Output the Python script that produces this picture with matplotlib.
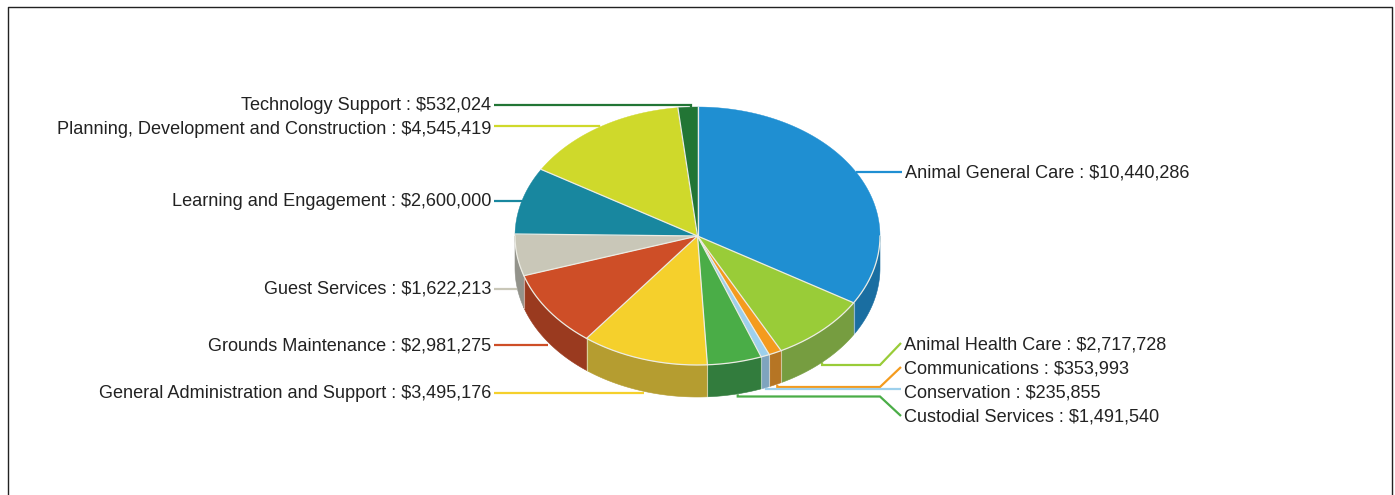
import numpy as np
import matplotlib
matplotlib.use("Agg")
import matplotlib.pyplot as plt
from matplotlib.patches import Polygon

categories = ["Animal General Care", "Animal Health Care", "Communications", "Conservation",
              "Custodial Services", "General Administration and Support", "Grounds Maintenance",
              "Guest Services", "Learning and Engagement",
              "Planning, Development and Construction", "Technology Support"]
values = [10440286, 2717728, 353993, 235855, 1491540, 3495176, 2981275, 1622213, 2600000, 4545419, 532024]
top_colors = ["#1F8FD2", "#99CC38", "#F49B1E", "#9DD0EC", "#4AAD47", "#F5D02C", "#CE4E27",
              "#C9C7B8", "#18879F", "#CFD92B", "#227535"]
side_colors = ["#1A6EA1", "#769D40", "#B67524", "#7FA4BE", "#327C3D", "#B59D30", "#9A3A1F",
               "#93938B", "#126577", "#9BA321", "#1A5828"]

# pie geometry in pixels
CX, CY, RX, RY, DEPTH = 697.5, 236, 182.5, 129, 32
EDGE = "#ECECE4"

# label placement
label_y = [173, 345, 369, 393, 417, 394, 346, 289.5, 201.5, 129.5, 105.5]
leader_y = [172, 365, 387, 389, 396.5, 393, 345, 288.5, 200.5, 126, 105]
leader_end_y = [172, 343, 367, 389, 416, 393, 345, 288.5, 200.5, 126, 105]
leader_dx = [0, 0, 2, 1, 3, 0, 0, 0, 0, 0, 3]

fig = plt.figure(figsize=(13.95, 4.95), dpi=100)
ax = fig.add_axes([0, 0, 1, 1])
ax.set_xlim(0, 1395)
ax.set_ylim(495, 0)
ax.axis("off")


def pt(deg, dy=0.0):
    a = np.radians(deg)
    return CX + RX * np.sin(a), CY - RY * np.cos(a) + dy


def arc(a0, a1, dy=0.0):
    t = np.linspace(a0, a1, max(int(abs(a1 - a0) * 2), 2))
    x, y = pt(t, dy)
    return np.column_stack([x, y])


fractions = np.array(values, dtype=float) / np.sum(values)
edges = np.concatenate([[0], np.cumsum(fractions) * 360])

# side wall: only the front half (90..270 degrees) is visible
for i in range(len(values)):
    a0, a1 = max(edges[i], 90), min(edges[i + 1], 270)
    if a1 <= a0:
        continue
    poly = np.vstack([arc(a0, a1), arc(a0, a1, DEPTH)[::-1]])
    ax.add_patch(Polygon(poly, closed=True, facecolor=side_colors[i], edgecolor=side_colors[i], lw=0.4, zorder=2))
    for a in (a0, a1):
        if 90 < a < 270:
            x, y = pt(a)
            ax.plot([x, x], [y, y + DEPTH], color="#FFFFFF", alpha=0.3, lw=0.8, zorder=3)

# top face
for i in range(len(values)):
    poly = np.vstack([[CX, CY], arc(edges[i], edges[i + 1])])
    ax.add_patch(Polygon(poly, closed=True, facecolor=top_colors[i], edgecolor=top_colors[i], lw=0.3, zorder=4))
for a in edges[:-1]:
    x, y = pt(a)
    ax.plot([CX, x], [CY, y], color=EDGE, lw=0.9, zorder=5)
front = arc(90, 270)
ax.plot(front[:, 0], front[:, 1], color=EDGE, lw=0.9, zorder=5)

# leaders and labels
for i, name in enumerate(categories):
    mid = (edges[i] + edges[i + 1]) / 2
    front_side = 90 < mid < 270
    x0, y0 = pt(mid, DEPTH if front_side else 0)
    x0 += leader_dx[i]
    ly, ey = leader_y[i], leader_end_y[i]
    if mid < 90:
        xs, ys = [x0, 902], [ly, ly]
        tx, ha = 905, "left"
    elif mid < 180:
        xs, ys = [x0, x0, 880, 901], [y0, ly, ly, ey]
        tx, ha = 904.5, "left"
    elif front_side:
        xs, ys = [x0, 494], [ly, ly]
        tx, ha = 491, "right"
    else:
        xs, ys = [x0, x0, 494], [y0, ly, ly]
        tx, ha = 491, "right"
    ax.plot(xs, ys, color=top_colors[i], lw=1.6, solid_joinstyle="miter", solid_capstyle="butt", zorder=1)
    ax.text(tx, label_y[i], f"{name} : ${values[i]:,}", ha=ha, va="center", fontsize=13.03,
            family="Liberation Sans", color="#222222", zorder=6)

# chart frame
ax.plot([7.5, 7.5, 1391.5, 1391.5], [495, 6.5, 6.5, 495], color="#222222", lw=1.0, zorder=7)

fig.savefig("out.png", dpi=100, facecolor="white")
